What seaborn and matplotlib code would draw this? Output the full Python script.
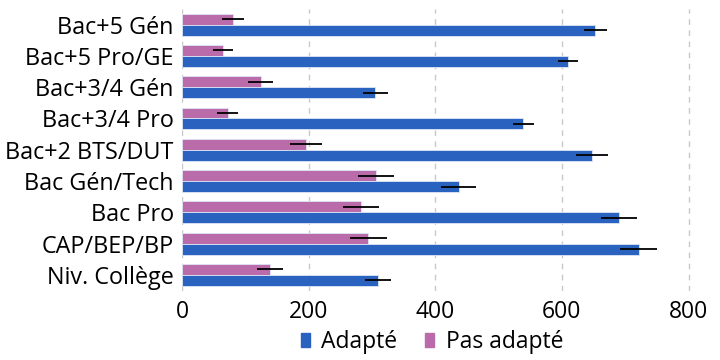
import pandas as pd
import seaborn as sns
import matplotlib.pyplot as plt
from matplotlib.patches import Patch

# Values
categories = ["Bac+5 Gén", "Bac+5 Pro/GE", "Bac+3/4 Gén", "Bac+3/4 Pro",
              "Bac+2 BTS/DUT", "Bac Gén/Tech", "Bac Pro", "CAP/BEP/BP", "Niv. Collège"]
adapte = [653, 610, 305, 539, 648, 437, 690, 721, 309]
pas_adapte = [80, 64, 124, 72, 196, 306, 283, 294, 139]
erreur = [17.5, 16, 19.5, 16.5, 25, 28, 28.5, 29.5, 20.5]

df = pd.DataFrame({
    "Niveau": categories * 2,
    "Valeur": pas_adapte + adapte,
    "Erreur": erreur * 2,
    "Groupe": ["Pas adapté"] * len(categories) + ["Adapté"] * len(categories),
})

sns.set_theme(style="white")
plt.rcParams['font.family'] = ['Open Sans', 'DejaVu Sans']
plt.rcParams['text.color'] = 'black'
plt.rcParams['xtick.color'] = 'black'
plt.rcParams['ytick.color'] = 'black'

colors = {"Adapté": "#2A63BF", "Pas adapté": "#BA6BA9"}

fig, ax = plt.subplots(figsize=(7.2, 3.6), dpi=100)
fig.subplots_adjust(left=0.253, right=0.98, top=0.975, bottom=0.193)

sns.barplot(data=df, y="Niveau", x="Valeur", hue="Groupe",
            hue_order=["Pas adapté", "Adapté"], palette=colors,
            order=categories, width=0.7, errorbar=None,
            edgecolor="#dfe6f5", linewidth=0.6, saturation=1, ax=ax)

# error bars at the end of each bar
for cont, grp in zip(ax.containers, ["Pas adapté", "Adapté"]):
    sub = df[df["Groupe"] == grp]
    ys = [p.get_y() + p.get_height() / 2 for p in cont.patches]
    ax.errorbar(sub["Valeur"], ys, xerr=sub["Erreur"], fmt="none",
                ecolor="black", elinewidth=1.3, capsize=0, zorder=5)

ax.set_ylim(len(categories) - 0.5, -0.5)
ax.set_xlim(0, 827)
ax.set_xticks([0, 200, 400, 600, 800])
ax.set_xlabel("")
ax.set_ylabel("")
ax.tick_params(axis="y", labelsize=16.8, length=0, pad=6)
ax.tick_params(axis="x", labelsize=16.5, length=0, pad=7)
ax.grid(axis="x", linestyle=(0, (4, 4)), color="#c8c8c8", linewidth=1)
ax.set_axisbelow(True)
sns.despine(ax=ax, left=True, bottom=True)

ax.get_legend().remove()
handles = [Patch(color=colors["Adapté"], label="Adapté"),
           Patch(color=colors["Pas adapté"], label="Pas adapté")]
fig.legend(handles=handles, loc="lower center", bbox_to_anchor=(0.6, -0.04),
           ncol=2, frameon=False, fontsize=16.5, handlelength=0.4,
           handleheight=0.55, handletextpad=0.5, columnspacing=1.2)

fig.savefig("out.png", dpi=100)
